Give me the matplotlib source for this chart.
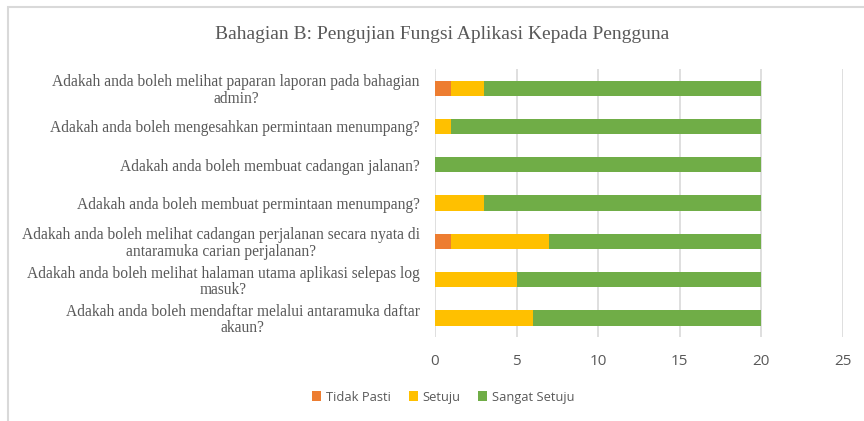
import matplotlib
matplotlib.use("Agg")
import matplotlib.pyplot as plt
from matplotlib.patches import Rectangle

categories = [
    "Adakah anda boleh melihat paparan laporan pada bahagian\nadmin?",
    "Adakah anda boleh mengesahkan permintaan menumpang?",
    "Adakah anda boleh membuat cadangan jalanan?",
    "Adakah anda boleh membuat permintaan menumpang?",
    "Adakah anda boleh melihat cadangan perjalanan secara nyata di\nantaramuka carian perjalanan?",
    "Adakah anda boleh melihat halaman utama aplikasi selepas log\nmasuk?",
    "Adakah anda boleh mendaftar melalui antaramuka daftar\nakaun?",
]
tidak_pasti = [1, 0, 0, 0, 1, 0, 0]
setuju = [2, 1, 0, 3, 6, 5, 6]
sangat_setuju = [17, 19, 20, 17, 13, 15, 14]
series_names = ["Tidak Pasti", "Setuju", "Sangat Setuju"]
xticks = [0, 5, 10, 15, 20, 25]
title = "Bahagian B: Pengujian Fungsi Aplikasi Kepada Pengguna"

colors = ["#ED7D31", "#FFC000", "#70AD47"]
grey = "#595959"

fig = plt.figure(figsize=(8.64, 4.21), dpi=100)
ax = fig.add_axes([0.5035, 0.1995, 0.4722, 0.6365])

ypos = list(range(len(categories)))
left = [0] * len(categories)
for name, vals, c in zip(series_names, [tidak_pasti, setuju, sangat_setuju], colors):
    ax.barh(ypos, vals, left=left, height=0.4, color=c, label=name, zorder=3)
    left = [l + v for l, v in zip(left, vals)]

ax.set_ylim(len(categories) - 0.5, -0.5)
ax.set_xlim(0, 25)
ax.set_xticks(xticks)
ax.set_yticks(ypos)
ax.set_yticklabels(categories, fontfamily="Liberation Serif", fontsize=11.2,
                   color=grey, multialignment="center", linespacing=1.05)
for lbl in ax.get_xticklabels():
    lbl.set_fontfamily("Open Sans")
    lbl.set_fontsize(11)
    lbl.set_color(grey)
ax.tick_params(axis="x", length=0, pad=12)
ax.tick_params(axis="y", length=0, pad=11)
ax.grid(axis="x", color="#D9D9D9", linewidth=1.2, zorder=0)
for s in ax.spines.values():
    s.set_visible(False)

fig.text(0.512, 0.918, title, ha="center", va="center",
         fontfamily="Liberation Serif", fontsize=14, color=grey)

leg = fig.legend(loc="center", bbox_to_anchor=(0.513, 0.057), ncol=3, frameon=False,
                 handlelength=0.7, handleheight=0.7, handletextpad=0.35, columnspacing=1.4,
                 prop={"family": "Open Sans", "size": 9.3})
for t in leg.get_texts():
    t.set_color(grey)

fig.patches.append(Rectangle((8 / 864, -0.1), 1.2, 1.1 - 7 / 421, transform=fig.transFigure,
                             fill=False, edgecolor="#D9D9D9", linewidth=1.5))

fig.savefig("out.png", dpi=100)
